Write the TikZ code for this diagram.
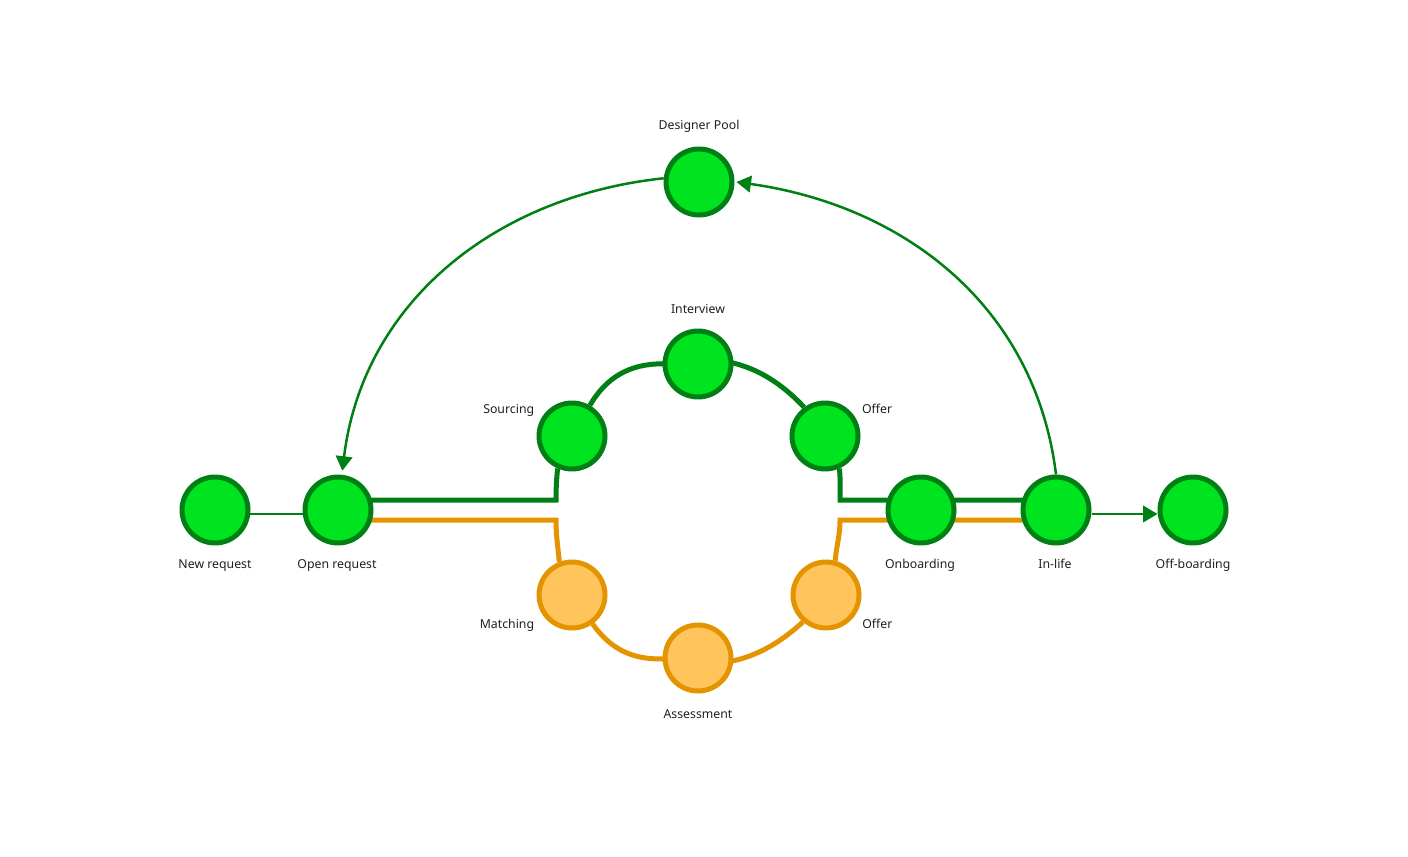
\documentclass[tikz,border=0pt]{standalone}
\usepackage{fontspec}
\setmainfont{Noto Sans}
\usepackage{xcolor}
\usetikzlibrary{positioning,calc,arrows.meta,backgrounds}
\definecolor{stagefill}{RGB}{0,228,32}
\definecolor{stageline}{RGB}{0,128,20}
\definecolor{pendfill}{RGB}{255,196,92}
\definecolor{pendline}{RGB}{228,148,0}
\tikzset{
    stage/.style={circle, draw=stageline, fill=stagefill, line width=0.1cm, minimum size=1.32cm, inner sep=0pt},
    pending/.style={stage, draw=pendline, fill=pendfill},
    stage label/.style={font=\fontsize{7}{8}\selectfont, inner sep=0pt, text=black!88},
    main track/.style={draw=stageline, line width=0.1cm},
    side track/.style={draw=pendline, line width=0.1cm},
    flow/.style={draw=stageline, line width=0.05cm, -{Triangle[length=0.29cm, width=0.33cm]}}
}

\begin{document}
\begin{tikzpicture}[x=0.02cm, y=0.02cm]
    \useasboundingbox (0,0) rectangle (1408,856);

    \node[stage] (newreq) at (215,346) {};
    \node[stage] (openreq) at (338,346) {};
    \node[stage] (sourcing) at (572,420) {};
    \node[stage] (interview) at (698,492) {};
    \node[stage] (offertop) at (825,420) {};
    \node[stage] (onboard) at (921,346) {};
    \node[stage] (inlife) at (1056,346) {};
    \node[stage] (offboard) at (1193,346) {};
    \node[stage] (pool) at (699,674) {};
    \node[pending] (matching) at (572,261) {};
    \node[pending] (assess) at (698,198) {};
    \node[pending] (offerbot) at (826,261) {};

    \node[stage label, anchor=base] (poollbl) at (699,726) {Designer Pool};
    \node[stage label, anchor=base] (interviewlbl) at (698,542.5) {Interview};
    \node[stage label, anchor=base east] (sourcinglbl) at (534.5,442.7) {Sourcing};
    \node[stage label, anchor=base west] (offertoplbl) at (861.7,442.7) {Offer};
    \node[stage label, anchor=base] (newreqlbl) at (215,288) {New request};
    \node[stage label, anchor=base] (openreqlbl) at (337,288) {Open request};
    \node[stage label, anchor=base] (onboardlbl) at (920,288) {Onboarding};
    \node[stage label, anchor=base] (inlifelbl) at (1055,288) {In-life};
    \node[stage label, anchor=base] (offboardlbl) at (1193,288) {Off-boarding};
    \node[stage label, anchor=base east] (matchinglbl) at (534.5,227.7) {Matching};
    \node[stage label, anchor=base west] (offerbotlbl) at (862,227.7) {Offer};
    \node[stage label, anchor=base] (assesslbl) at (698,137.5) {Assessment};

    \coordinate (gl) at (556,356);
    \coordinate (gr) at (840,356);
    \coordinate (ol) at (556,336);
    \coordinate (or) at (840,336);

    \begin{scope}[on background layer]
        \draw[stageline, line width=0.04cm] ($(newreq)+(0,-4)$) -- ($(openreq)+(0,-4)$);
        \draw[main track] (openreq |- gl) -- (gl) to[out=90, in=-95] (sourcing.-114);
        \draw[main track] (sourcing) to[bend left=30] (interview) to[bend left=30] (offertop);
        \draw[main track] (offertop.-66) to[out=-85, in=90] (gr) -- (inlife |- gr);
        \draw[side track] (openreq |- ol) -- (ol) to[out=-90, in=95] (matching.111);
        \draw[side track] (matching) to[bend right=28] (assess) to[bend right=28] (offerbot);
        \draw[side track] (offerbot.75) to[out=85, in=-90] (or) -- (inlife |- or);
    \end{scope}

    \draw[flow] (pool.174) to[out=186, in=83] ([yshift=0.08cm]openreq.83);
    \draw[flow] (inlife.north) to[out=97, in=-8] ([xshift=0.04cm]pool.east);
    \draw[flow] ($(inlife.east)+(0,-4)$) -- ($(offboard.west)+(0,-4)$);

\end{tikzpicture}
\end{document}
